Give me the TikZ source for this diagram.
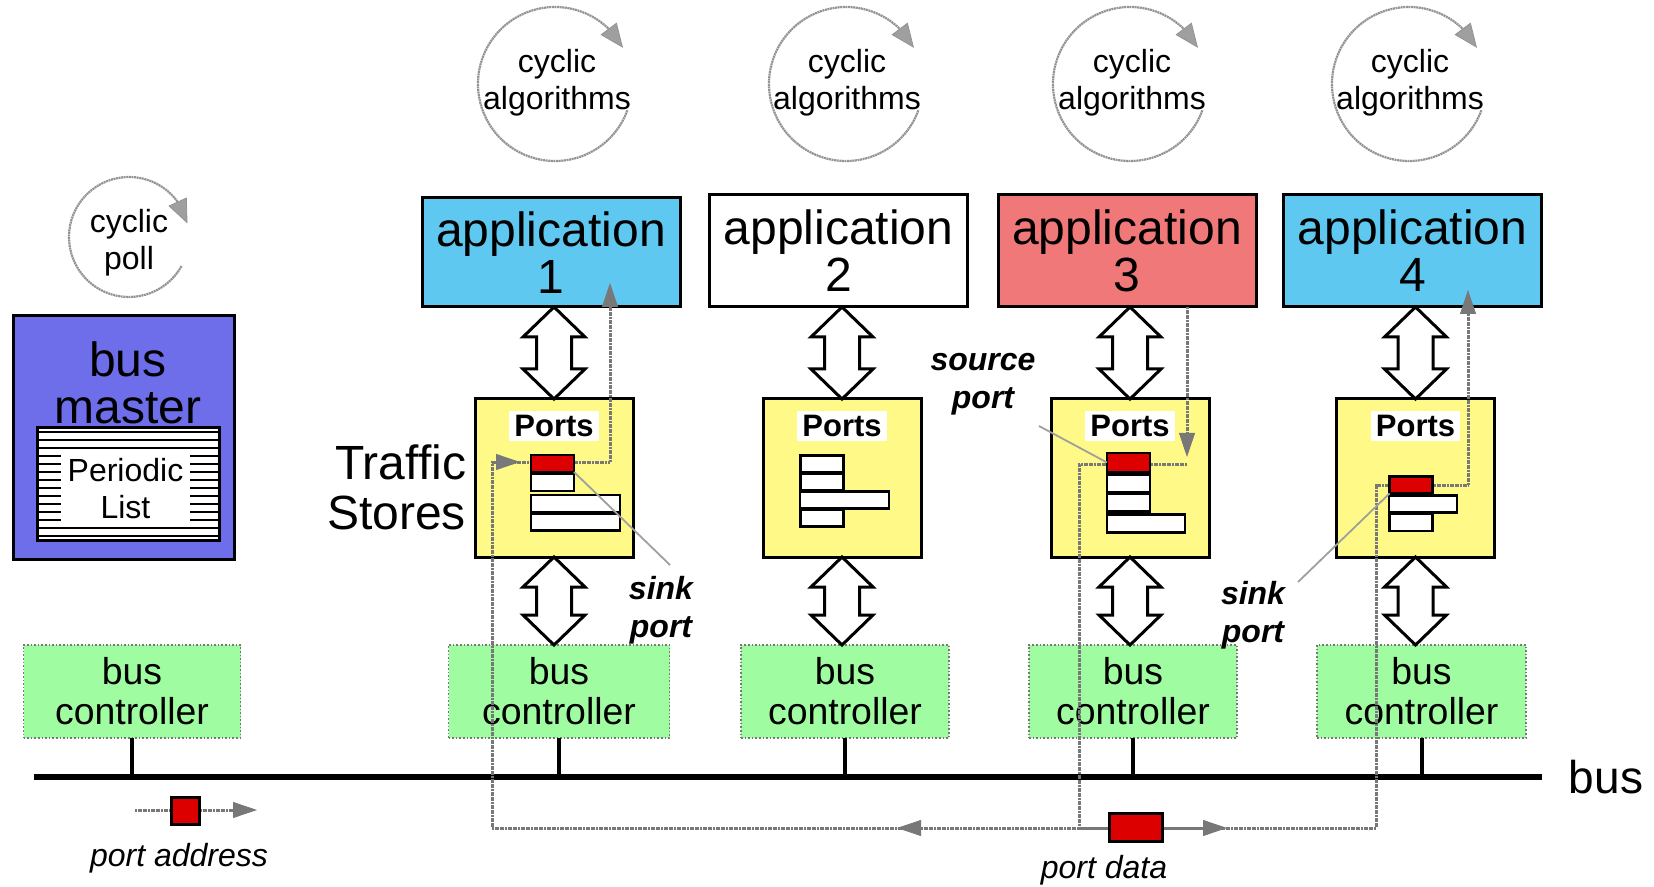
\documentclass[tikz,border=0pt]{standalone}
\usepackage{fontspec}
\setmainfont{Liberation Sans}
\usetikzlibrary{arrows.meta,calc,bending}

\definecolor{appblue}{RGB}{95,200,240}
\definecolor{appred}{RGB}{240,120,120}
\definecolor{masterblue}{RGB}{110,110,235}
\definecolor{storeyellow}{RGB}{255,250,135}
\definecolor{ctrlgreen}{RGB}{160,252,160}
\definecolor{slotred}{RGB}{220,0,0}
\definecolor{flowgray}{RGB}{120,120,120}

\newcommand\fs[2]{\fontsize{#1}{#2}\selectfont}
% hollow double-headed arrow between two anchors, on the x of a third
\newcommand\dblarrow[3]{%
  \draw[bigarrow] let \p1=(#1), \p2=(#2), \p3=(#3) in
    (\x3,\y1) -- (\x3+15.5pt,\y1-15pt) -- (\x3+8.75pt,\y1-15pt) --
    (\x3+8.75pt,\y2+15pt) -- (\x3+15.5pt,\y2+15pt) -- (\x3,\y2) --
    (\x3-15.5pt,\y2+15pt) -- (\x3-8.75pt,\y2+15pt) --
    (\x3-8.75pt,\y1-15pt) -- (\x3-15.5pt,\y1-15pt) -- cycle;}

\begin{document}
\begin{tikzpicture}[x=0.5pt,y=-0.5pt,
  every node/.style={inner sep=0pt, outer sep=0pt},
  appbox/.style={draw, line width=1.5pt, minimum width=129pt, minimum height=56pt,
    align=center, font=\fs{24}{23.5}},
  portsbox/.style={draw, fill=storeyellow, line width=1.5pt, minimum size=79pt},
  portslabel/.style={fill=white, inner xsep=2.5pt, minimum height=15pt,
    font=\fs{15.5}{18}\bfseries},
  ctrlbox/.style={draw=flowgray, line width=0.8pt, densely dotted, fill=ctrlgreen,
    minimum height=46.5pt, align=center, font=\fs{18.7}{20}},
  slot/.style={draw, line width=1.3pt, fill=white, minimum width=21.5pt, minimum height=8.5pt},
  redslot/.style={slot, fill=slotred},
  bigarrow/.style={draw, line width=1.5pt, fill=white, line join=miter},
  flow/.style={draw=flowgray, line width=1.5pt, dash pattern=on 1pt off 0.3pt},
  flowtip/.style={-{Triangle[length=12pt,width=8pt,line width=0.4pt,fill=flowgray]}},
  cyclearc/.style={draw=gray!85, line width=1.1pt, dash pattern=on 1pt off 0.3pt,
    -{Triangle[length=12pt,width=10pt,line width=0.4pt,fill=gray!75]}},
  cyctext/.style={align=center, font=\fs{16}{18.5}},
  lbl/.style={align=center, font=\fs{16}{19}\bfseries\itshape},
  note/.style={font=\fs{16}{19}\itshape},
  leader/.style={draw=gray!75, line width=0.9pt},
  stub/.style={line width=2pt}]

\useasboundingbox (0,0) rectangle (1654,887);

% cyclic activity circles
\node[cyctext] (cyp) at (129,243) {cyclic\\poll};
\coordinate (cyc0) at (129,237);
\draw[cyclearc] ($(cyc0)+(-29:30pt)$) arc[start angle=-29, end angle=-347, radius=30pt];
\foreach \i/\cx/\tx in {1/555/557, 2/846/847, 3/1130/1132, 4/1409/1410}{
  \node[cyctext] (cyt\i) at (\tx,83) {cyclic\\algorithms};
  \coordinate (cyc\i) at (\cx,84);
  \draw[cyclearc] ($(cyc\i)+(-20:38.5pt)$) arc[start angle=-20, end angle=-332, radius=38.5pt];
}

% applications
\node[appbox, fill=appblue, minimum height=54.5pt] (a1) at (551,252.5) {application\\1};
\node[appbox, fill=white] (a2) at (838.5,251) {application\\2};
\node[appbox, fill=appred] (a3) at (1127,251) {application\\3};
\node[appbox, fill=appblue] (a4) at (1412.5,251) {application\\4};

% bus master with its periodic list
\node[draw, line width=1.5pt, fill=masterblue, minimum width=110.5pt, minimum height=121.5pt]
  (bm) at (124,437.5) {};
\node[align=center, font=\fs{24}{23.5}] (bmt) at (128,383) {bus\\master};
\node[fill=white, minimum width=91pt, minimum height=56pt] (pl) at (128,484) {};
\begin{scope}
  \clip (pl.south west) rectangle (pl.north east);
  \foreach \yy in {432,440,...,540}
    \draw[line width=1.1pt] (pl.west |- 0,\yy) -- (pl.east |- 0,\yy);
\end{scope}
\node[fill=white, minimum width=64.5pt, minimum height=36.5pt, align=center,
  font=\fs{16}{18.5}] (plt) at (125.5,489) {Periodic\\List};
\draw[line width=1.5pt] (pl.north west) rectangle (pl.south east);

% traffic stores
\node[font=\fs{24}{25}, align=right, anchor=east] (ts) at (466,487) {Traffic\\Stores};
\foreach \i/\px in {1/554, 2/842, 3/1130, 4/1415.5}{
  \node[portsbox] (p\i) at (\px,478) {};
  \node[portslabel] (pl\i) at (\px,426) {Ports};
}
% white port slots
\node[slot] (s1b) at (552.5,482.5) {};
\node[slot, minimum width=44.5pt] (s1c) at (575.5,503.5) {};
\node[slot, minimum width=44.5pt] (s1d) at (575.5,522) {};
\node[slot] (s2a) at (822,464) {};
\node[slot] (s2b) at (822,482) {};
\node[slot, minimum width=44.5pt] (s2c) at (844.5,500) {};
\node[slot] (s2d) at (822,518) {};
\node[slot, minimum height=9pt] (s3b) at (1128.5,483.5) {};
\node[slot, minimum height=9pt] (s3c) at (1128.5,502.5) {};
\node[slot, minimum width=39pt, minimum height=9pt] (s3d) at (1146,523.5) {};
\node[slot, minimum width=34pt] (s4b) at (1423,504) {};
\node[slot] (s4c) at (1411,522.5) {};

% bus controllers
\node[ctrlbox, minimum width=108.5pt] (c0) at (132,691.5) {bus\\controller};
\node[ctrlbox, minimum width=110.5pt] (c1) at (559,691.5) {bus\\controller};
\node[ctrlbox, minimum width=104pt] (c2) at (845,691.5) {bus\\controller};
\node[ctrlbox, minimum width=104pt] (c3) at (1133,691.5) {bus\\controller};
\node[ctrlbox, minimum width=104.5pt] (c4) at (1421.5,691.5) {bus\\controller};

% access arrows
\foreach \i in {1,2,3,4}{
  \dblarrow{a\i.south}{p\i.north}{p\i.center}
  \dblarrow{p\i.south}{c\i.north}{p\i.center}
}

% bus
\coordinate (bus0) at (34,777);
\coordinate (bus1) at (1542,777);
\draw[line width=2.6pt] (bus0) -- (bus1);
\foreach \i in {0,...,4}
  \draw[stub] (c\i.south) -- (c\i.south |- bus0);
\node[font=\fs{23}{23}] (buslbl) at (1606,777) {bus};

% data flow from source port to sink ports
\coordinate (j3) at (1187,464);
\coordinate (j3t) at (1187,457);
\coordinate (k3) at (1079,464);
\coordinate (k3b) at (1079,828);
\coordinate (k1b) at (492,828);
\coordinate (k1) at (492,462);
\coordinate (j1) at (610,462);
\coordinate (k4b) at (1376,828);
\coordinate (k4) at (1376,485);
\coordinate (j4) at (1468,485);
\coordinate (t1) at (897,828);
\coordinate (t2) at (1227,828);
\coordinate (t3) at (520,462);
\coordinate (a1t) at (610,283);
\coordinate (a4t) at (1468,290);

\draw[flow, flowtip] (a3.south -| j3) -- (j3t);
\draw[flow] (j3) -- (k3) -- (k3b) -- (k4b) -- (k4) -- (j4);
\draw[flow, flowtip] (j4) -- (a4t);
\draw[flow, flowtip] (k3b) -- (t2);
\draw[flow] (k3b) -- (k1b) -- (k1) -- (j1);
\draw[flow, flowtip] (j1) -- (a1t);
\draw[flow, flowtip] (k3b) -- (t1);
\draw[flow, flowtip] (k1) -- (t3);

% red (active) port slots
\node[redslot] (r1) at (552.5,463.5) {};
\node[redslot, minimum height=9.5pt] (r3) at (1128.5,462.5) {};
\node[redslot] (r4) at (1411,485) {};

% legend: port address and port data frames
\coordinate (pa1) at (135,810);
\coordinate (pa2) at (257,810);
\draw[flow, flowtip] (pa1) -- (pa2);
\node[draw, line width=1.5pt, fill=slotred, minimum width=14pt, minimum height=13.5pt]
  (pa) at (185,810.5) {};
\node[note] (pat) at (179,858) {port address};
\node[draw, line width=1.5pt, fill=slotred, minimum width=26.5pt, minimum height=14pt]
  (pd) at (1135.5,827) {};
\node[note] (pdt) at (1104,870) {port data};

% port role labels
\node[lbl] (snk1) at (661,610) {sink\\port};
\node[lbl] (src) at (983,384) {source\\port};
\node[lbl] (snk2) at (1253,615) {sink\\port};
\coordinate (l1) at (670,565);
\coordinate (l2) at (1039,426);
\coordinate (l3) at (1298,582);
\draw[leader] (r1.south east) -- (l1);
\draw[leader] (l2) -- (r3.west);
\draw[leader] (l3) -- (r4.south west);

\end{tikzpicture}
\end{document}
